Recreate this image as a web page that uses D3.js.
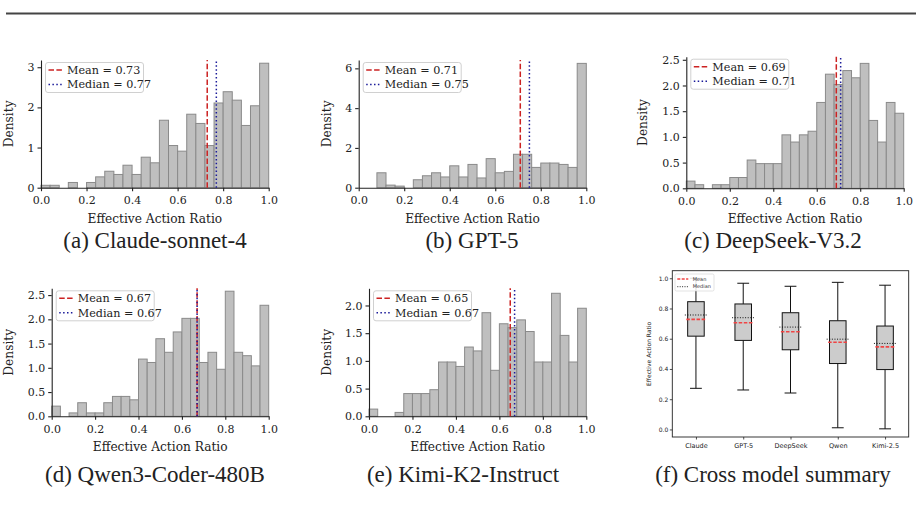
<!DOCTYPE html>
<html>
<head>
<meta charset="utf-8">
<script src="https://cdn.jsdelivr.net/npm/d3@7"></script>
<style>
body { margin: 0; background: #fff; }
</style>
</head>
<body>
<div id="chart"></div>
<script>
// histogram bins (edges) shared by all five models
var binEdges = [0.00, 0.04, 0.08, 0.12, 0.16, 0.20, 0.24, 0.28, 0.32, 0.36, 0.40, 0.44, 0.48,
                0.52, 0.56, 0.60, 0.64, 0.68, 0.72, 0.76, 0.80, 0.84, 0.88, 0.92, 0.96, 1.00];

var claudeDensity = [0.06, 0.06, 0, 0.13, 0, 0.13, 0.27, 0.41, 0.33, 0.56, 0.33, 0.76, 0.62,
                     1.68, 1.05, 0.91, 1.83, 1.60, 1.05, 2.11, 2.39, 2.18, 1.55, 2.04, 3.10];
var gptDensity = [0, 0, 0.75, 0.13, 0.08, 0, 0.40, 0.60, 0.75, 0.54, 1.10, 0.54, 1.17,
                  0.49, 1.46, 0.75, 0.82, 1.68, 1.68, 1.02, 1.24, 1.24, 1.17, 1.02, 6.25];
var deepseekDensity = [0.14, 0.07, 0, 0.07, 0.07, 0.21, 0.21, 0.55, 0.48, 0.48, 0.48, 1.04, 0.90,
                       1.04, 1.11, 1.67, 2.22, 2.02, 2.29, 2.15, 2.43, 1.32, 0.90, 1.67, 1.46];
var qwenDensity = [0.21, 0, 0.07, 0.28, 0.07, 0.07, 0.28, 0.41, 0.41, 0.34, 1.18, 1.11, 1.60,
                   1.32, 1.74, 2.02, 2.02, 1.11, 1.32, 0.97, 2.58, 1.32, 1.25, 1.04, 2.29];
var kimiDensity = [0.13, 0, 0, 0.07, 0.41, 0.41, 0.41, 0.48, 0.98, 0.98, 0.90, 1.25, 1.18,
                   1.87, 0.83, 1.67, 1.60, 1.74, 1.53, 0.98, 0.98, 2.22, 1.46, 0.98, 1.95];

var histMeans = [0.73, 0.71, 0.69, 0.67, 0.65];
var histMedians = [0.77, 0.75, 0.71, 0.67, 0.67];
var captions = ["(a) Claude-sonnet-4", "(b) GPT-5", "(c) DeepSeek-V3.2",
                "(d) Qwen3-Coder-480B", "(e) Kimi-K2-Instruct", "(f) Cross model summary"];

var xTicks = [0, 0.2, 0.4, 0.6, 0.8, 1.0];
var yTicksA = [0, 1, 2, 3];
var yTicksB = [0, 2, 4, 6];
var yTicksC = [0, 0.5, 1.0, 1.5, 2.0, 2.5];
var yTicksD = [0, 0.5, 1.0, 1.5, 2.0, 2.5];
var yTicksE = [0, 0.5, 1.0, 1.5, 2.0];

// cross model box summary
var boxModels = ["Claude", "GPT-5", "DeepSeek", "Qwen", "Kimi-2.5"];
var boxLow = [0.272, 0.261, 0.241, 0.011, 0.004];
var boxQ1 = [0.617, 0.589, 0.527, 0.436, 0.396];
var boxMedian = [0.757, 0.739, 0.677, 0.597, 0.569];
var boxMean = [0.728, 0.706, 0.646, 0.577, 0.546];
var boxQ3 = [0.845, 0.830, 0.772, 0.719, 0.684];
var boxHigh = [1.0, 0.967, 0.947, 0.973, 0.954];
var boxYTicks = [0, 0.2, 0.4, 0.6, 0.8, 1.0];

var W = 921, H = 508;
var serif = "'DejaVu Serif'";
var sans = "'DejaVu Sans'";
var meanColor = "#cc2222", medianColor = "#1a1a99";

var svg = d3.select("#chart").append("svg")
    .attr("width", W)
    .attr("height", H);

svg.append("line")
    .attr("x1", 6).attr("x2", 916)
    .attr("y1", 13.5).attr("y2", 13.5)
    .attr("stroke", "#444").attr("stroke-width", 2);

function drawHistogram(p) {
    var x = d3.scaleLinear().domain([0, 1]).range([p.left, p.right]);
    var y = d3.scaleLinear().domain([0, p.ymax]).range([p.bottom, p.top]);
    var g = svg.append("g");

    g.selectAll(".bar")
        .data(p.values)
        .enter()
        .append("rect")
        .attr("class", "bar")
        .attr("x", function (d, i) { return x(binEdges[i]); })
        .attr("width", function (d, i) { return x(binEdges[i + 1]) - x(binEdges[i]); })
        .attr("y", function (d) { return y(d); })
        .attr("height", function (d) { return y(0) - y(d); })
        .attr("fill", "#bfbfbf")
        .attr("stroke", "#8a8a8a")
        .attr("stroke-width", 1);

    var xAxis = d3.axisBottom(x)
        .tickValues(xTicks)
        .tickFormat(d3.format(".1f"))
        .tickSize(3.5)
        .tickSizeOuter(0);
    var yAxis = d3.axisLeft(y)
        .tickValues(p.yTicks)
        .tickFormat(d3.format(p.yFormat))
        .tickSize(3.5)
        .tickSizeOuter(0);

    var gx = g.append("g")
        .attr("transform", "translate(0," + p.bottom + ")")
        .call(xAxis);
    var gy = g.append("g")
        .attr("transform", "translate(" + p.left + ",0)")
        .call(yAxis);
    [gx, gy].forEach(function (a) {
        a.selectAll("text")
            .style("font-family", serif)
            .style("font-size", "11px")
            .attr("fill", "#222");
        a.selectAll("line, path").attr("stroke", "#222").attr("stroke-width", 1.1);
    });
    gx.selectAll("text").attr("dy", "0.9em");

    g.append("text")
        .attr("x", (p.left + p.right) / 2)
        .attr("y", p.bottom + 35)
        .attr("text-anchor", "middle")
        .style("font-family", serif)
        .style("font-size", "12.2px")
        .attr("fill", "#222")
        .text("Effective Action Ratio");
    g.append("text")
        .attr("transform", "translate(" + p.labelX + "," + ((p.top + p.bottom) / 2) + ") rotate(-90)")
        .attr("text-anchor", "middle")
        .style("font-family", serif)
        .style("font-size", "12.2px")
        .attr("fill", "#222")
        .text("Density");

    // mean / median lines
    g.append("line")
        .attr("x1", x(p.mean)).attr("x2", x(p.mean))
        .attr("y1", y(0)).attr("y2", y(p.ymax))
        .attr("stroke", meanColor).attr("stroke-width", 1.5)
        .attr("stroke-dasharray", "5.5,2.4");
    g.append("line")
        .attr("x1", x(p.median)).attr("x2", x(p.median))
        .attr("y1", y(0)).attr("y2", y(p.ymax))
        .attr("stroke", medianColor).attr("stroke-width", 1.5)
        .attr("stroke-dasharray", "1.5,2.4");

    // legend
    var lx = p.left + 4.5, ly = p.top + 2.5;
    var lg = g.append("g").attr("transform", "translate(" + lx + "," + ly + ")");
    lg.append("rect")
        .attr("width", 98).attr("height", 30)
        .attr("rx", 2.5)
        .attr("fill", "#fff").attr("fill-opacity", 0.85)
        .attr("stroke", "#d0d0d0");
    var items = [
        { label: "Mean = " + p.mean.toFixed(2), color: meanColor, dash: "5.5,2.4" },
        { label: "Median = " + p.median.toFixed(2), color: medianColor, dash: "1.5,2.4" }
    ];
    items.forEach(function (it, i) {
        var yy = 7.5 + i * 14.5;
        lg.append("line")
            .attr("x1", 3).attr("x2", 18)
            .attr("y1", yy).attr("y2", yy)
            .attr("stroke", it.color).attr("stroke-width", 1.5)
            .attr("stroke-dasharray", it.dash);
        lg.append("text")
            .attr("x", 21.5).attr("y", yy)
            .attr("dy", "0.35em")
            .style("font-family", serif)
            .style("font-size", "11.2px")
            .attr("fill", "#222")
            .text(it.label);
    });
}

var panels = [
    { values: claudeDensity, left: 41, right: 268.7, top: 60, bottom: 187.7, ymax: 3.18, yTicks: yTicksA, yFormat: "d", labelX: 13 },
    { values: gptDensity, left: 358.7, right: 586.3, top: 60, bottom: 187.7, ymax: 6.42, yTicks: yTicksB, yFormat: "d", labelX: 331 },
    { values: deepseekDensity, left: 686.3, right: 903.7, top: 56.7, bottom: 188.3, ymax: 2.56, yTicks: yTicksC, yFormat: ".1f", labelX: 647 },
    { values: qwenDensity, left: 51.7, right: 268.7, top: 288.3, bottom: 416.3, ymax: 2.64, yTicks: yTicksD, yFormat: ".1f", labelX: 13 },
    { values: kimiDensity, left: 369, right: 586.3, top: 288.3, bottom: 416.3, ymax: 2.31, yTicks: yTicksE, yFormat: ".1f", labelX: 331 }
];
panels.forEach(function (p, i) {
    p.mean = histMeans[i];
    p.median = histMedians[i];
    drawHistogram(p);
});

// (f) box summary
function drawBoxes() {
    var left = 672.3, right = 908.7, top = 270.7, bottom = 437;
    var x = d3.scalePoint().domain(boxModels).range([left, right]).padding(0.5);
    var y = d3.scaleLinear().domain([-0.05, 1.05]).range([bottom, top]);
    var step = x.step();
    var g = svg.append("g");

    var rows = boxModels.map(function (m, i) {
        return { name: m, low: boxLow[i], q1: boxQ1[i], med: boxMedian[i], mean: boxMean[i], q3: boxQ3[i], high: boxHigh[i] };
    });
    var bw = step * 0.175, cw = step * 0.125, lw = step * 0.235;

    var b = g.selectAll(".box").data(rows).enter().append("g").attr("class", "box");
    b.append("line")
        .attr("x1", function (d) { return x(d.name); }).attr("x2", function (d) { return x(d.name); })
        .attr("y1", function (d) { return y(d.low); }).attr("y2", function (d) { return y(d.q1); })
        .attr("stroke", "#111").attr("stroke-width", 1);
    b.append("line")
        .attr("x1", function (d) { return x(d.name); }).attr("x2", function (d) { return x(d.name); })
        .attr("y1", function (d) { return y(d.q3); }).attr("y2", function (d) { return y(d.high); })
        .attr("stroke", "#111").attr("stroke-width", 1);
    ["low", "high"].forEach(function (k) {
        b.append("line")
            .attr("x1", function (d) { return x(d.name) - cw; }).attr("x2", function (d) { return x(d.name) + cw; })
            .attr("y1", function (d) { return y(d[k]); }).attr("y2", function (d) { return y(d[k]); })
            .attr("stroke", "#111").attr("stroke-width", 1);
    });
    b.append("rect")
        .attr("x", function (d) { return x(d.name) - bw; })
        .attr("width", bw * 2)
        .attr("y", function (d) { return y(d.q3); })
        .attr("height", function (d) { return y(d.q1) - y(d.q3); })
        .attr("fill", "#cccccc").attr("stroke", "#111").attr("stroke-width", 1);
    b.append("line")
        .attr("x1", function (d) { return x(d.name) - lw; }).attr("x2", function (d) { return x(d.name) + lw; })
        .attr("y1", function (d) { return y(d.med); }).attr("y2", function (d) { return y(d.med); })
        .attr("stroke", "#111").attr("stroke-width", 1)
        .attr("stroke-dasharray", "1,1.6");
    b.append("line")
        .attr("x1", function (d) { return x(d.name) - lw + 1.5; }).attr("x2", function (d) { return x(d.name) + lw - 1.5; })
        .attr("y1", function (d) { return y(d.mean); }).attr("y2", function (d) { return y(d.mean); })
        .attr("stroke", "#f04444").attr("stroke-width", 1.6)
        .attr("stroke-dasharray", "3.5,1.6");

    var gx = g.append("g")
        .attr("transform", "translate(0," + bottom + ")")
        .call(d3.axisBottom(x).tickSize(2.5).tickSizeOuter(0));
    var gy = g.append("g")
        .attr("transform", "translate(" + left + ",0)")
        .call(d3.axisLeft(y).tickValues(boxYTicks).tickFormat(d3.format(".1f")).tickSize(2.5).tickSizeOuter(0));
    [gx, gy].forEach(function (a) {
        a.select(".domain").remove();
        a.selectAll("text").style("font-family", sans).style("font-size", "6px").attr("fill", "#222");
        a.selectAll("line").attr("stroke", "#222").attr("stroke-width", 0.8);
    });
    gx.selectAll("text").style("font-size", "6.5px").attr("dy", "0.9em");
    gy.selectAll("text").attr("x", -4);

    g.append("rect")
        .attr("x", left).attr("y", top)
        .attr("width", right - left).attr("height", bottom - top)
        .attr("fill", "none").attr("stroke", "#222").attr("stroke-width", 0.9);

    g.append("text")
        .attr("transform", "translate(650.5," + ((top + bottom) / 2) + ") rotate(-90)")
        .attr("text-anchor", "middle")
        .style("font-family", sans)
        .style("font-size", "6px")
        .attr("fill", "#222")
        .text("Effective Action Ratio");

    var lg = g.append("g").attr("transform", "translate(675,274)");
    lg.append("rect")
        .attr("width", 39).attr("height", 17)
        .attr("rx", 1.5)
        .attr("fill", "#fff").attr("fill-opacity", 0.85)
        .attr("stroke", "#d0d0d0").attr("stroke-width", 0.6);
    [{ label: "Mean", color: "#f04444", dash: "3,1.4", w: 1.4 },
     { label: "Median", color: "#111", dash: "1,1.4", w: 0.9 }].forEach(function (it, i) {
        var yy = 5 + i * 7.7;
        lg.append("line")
            .attr("x1", 2.3).attr("x2", 13.3)
            .attr("y1", yy).attr("y2", yy)
            .attr("stroke", it.color).attr("stroke-width", it.w)
            .attr("stroke-dasharray", it.dash);
        lg.append("text")
            .attr("x", 17.7).attr("y", yy)
            .attr("dy", "0.35em")
            .style("font-family", sans)
            .style("font-size", "5px")
            .attr("fill", "#333")
            .text(it.label);
    });
}
drawBoxes();

// sub-figure captions
var captionX = [155, 472, 773, 155, 463, 773];
var captionY = [248, 248, 248, 482, 482, 482];
svg.selectAll(".caption")
    .data(captions)
    .enter()
    .append("text")
    .attr("class", "caption")
    .attr("x", function (d, i) { return captionX[i]; })
    .attr("y", function (d, i) { return captionY[i]; })
    .attr("text-anchor", "middle")
    .style("font-family", "'Liberation Serif'")
    .style("font-size", "23px")
    .attr("fill", "#222")
    .text(function (d) { return d; });
</script>
</body>
</html>
